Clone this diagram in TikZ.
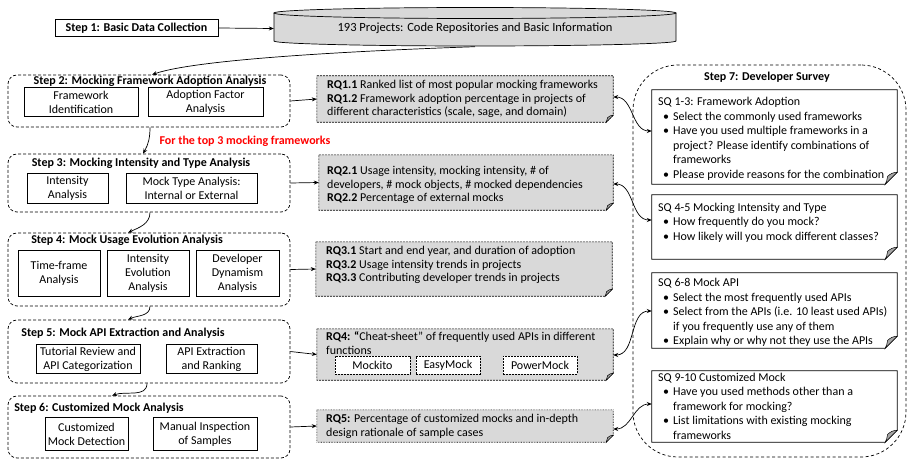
\documentclass[tikz,border=0pt]{standalone}
\usepackage{fontspec}
\setmainfont{Carlito}
\usetikzlibrary{arrows.meta,backgrounds,calc}
\definecolor{boxgray}{HTML}{D9D9D9}
\definecolor{foldgray}{HTML}{A6A6A6}
\definecolor{redtxt}{HTML}{FF0000}
\newcommand\sqbul{\hspace*{5pt}\makebox[10pt][l]{\textbullet}}
\newcommand\sqind{\hspace*{15pt}}
\newcommand\foldbg[3]{%
  \begin{pgfonlayer}{background}
  \path[#3] (#1.north west) -- (#1.north east) -- ($(#1.south east)+(0,-#2)$) -- ($(#1.south east)+(-#2,0)$) -- (#1.south west) -- cycle;
  \path[fill=foldgray, draw, line width=0.5pt] ($(#1.south east)+(0,-#2)$) to[bend right=20] ($(#1.south east)+(-0.8*#2,-0.65*#2)$) to[bend left=10] ($(#1.south east)+(-#2,0)$) -- cycle;
  \end{pgfonlayer}}
\begin{document}
\begin{tikzpicture}[x=1pt,y=-1pt,font=\fontsize{12}{13.5}\selectfont,
  arr/.style={-{Stealth[length=5pt,width=4pt]},line width=0.7pt},
  darr/.style={{Stealth[length=5pt,width=4pt]}-{Stealth[length=5pt,width=4pt]},line width=0.7pt},
  stepbox/.style={draw,dash pattern=on 3pt off 2pt,rounded corners=9pt,line width=0.7pt,inner sep=0},
  subbox/.style={draw,line width=0.8pt,align=center,inner sep=0,font=\fontsize{12}{14}\selectfont},
  steptitle/.style={font=\bfseries\fontsize{12}{13}\selectfont,inner sep=0},
  rqbox/.style={inner sep=0},
  rqtext/.style={anchor=west,align=left,inner sep=0},
  sqtext/.style={anchor=west,align=left,inner sep=0,font=\fontsize{12}{14.5}\selectfont},
  fwbox/.style={draw,fill=white,dash pattern=on 2pt off 1pt,line width=0.6pt,inner sep=0,minimum height=18pt},
  rqline/.style={fill=boxgray,draw,dash pattern=on 2pt off 1pt,line width=0.6pt},
  rqdot/.style={fill=boxgray,draw,dash pattern=on 0.7pt off 0.9pt,line width=0.6pt},
  sqline/.style={fill=white,draw,line width=0.8pt}
]
\useasboundingbox (0,0) rectangle (911,460);

% Step 1 and database
\node[draw,line width=0.8pt,minimum width=163pt,minimum height=17pt,inner sep=0,font=\bfseries\fontsize{12}{13}\selectfont] (s1) at (136.5,28) {Step 1: Basic Data Collection};
\path[fill=boxgray] (274,13) -- (274,41) arc[start angle=180,end angle=360,x radius=201pt,y radius=5pt] -- (676,13) -- cycle;
\draw[line width=0.7pt] (274,13) -- (274,41) arc[start angle=180,end angle=360,x radius=201pt,y radius=5pt] -- (676,13);
\draw[fill=boxgray,line width=0.7pt] (475,13) ellipse[x radius=201pt,y radius=5.5pt];
\node[minimum width=402pt,minimum height=33pt,inner sep=0,font=\fontsize{12.5}{14}\selectfont] (db) at (475,28.5) {193 Projects: Code Repositories and Basic Information};
\draw[arr] (s1.east) -- (db.west);

% Step boxes
\node[stepbox,minimum width=282pt,minimum height=52pt] (s2) at (149,101) {};
\node[steptitle] (s2t) at (150,81.5) {Step 2: Mocking Framework Adoption Analysis};
\node[subbox,minimum width=114pt,minimum height=29pt] (s2a) at (81,102) {Framework\\Identification};
\node[subbox,minimum width=115pt,minimum height=29pt] (s2b) at (205.5,102) {Adoption Factor\\Analysis};

\node[font=\bfseries\fontsize{12}{13}\selectfont,text=redtxt,inner sep=0] (red) at (245,141) {For the top 3 mocking frameworks};

\node[stepbox,minimum width=282pt,minimum height=58pt] (s3) at (149,183) {};
\node[steptitle] (s3t) at (141,163) {Step 3: Mocking Intensity and Type Analysis};
\node[subbox,minimum width=81pt,minimum height=30pt] (s3a) at (67.5,188.5) {Intensity\\Analysis};
\node[subbox,minimum width=131pt,minimum height=30pt] (s3b) at (191.5,188.5) {Mock Type Analysis:\\Internal or External};

\node[stepbox,minimum width=282pt,minimum height=73pt] (s4) at (149,269.5) {};
\node[steptitle] (s4t) at (127,240.5) {Step 4: Mock Usage Evolution Analysis};
\node[subbox,minimum width=82pt,minimum height=46pt] (s4a) at (59,273.5) {Time-frame\\Analysis};
\node[subbox,minimum width=82pt,minimum height=46pt] (s4b) at (148,273.5) {Intensity\\Evolution\\Analysis};
\node[subbox,minimum width=83pt,minimum height=46pt] (s4c) at (237.5,273.5) {Developer\\Dynamism\\Analysis};

\node[stepbox,minimum width=282pt,minimum height=63pt] (s5) at (149,351.5) {};
\node[steptitle] (s5t) at (123,333.5) {Step 5: Mock API Extraction and Analysis};
\node[subbox,minimum width=104pt,minimum height=29pt] (s5a) at (88,359) {Tutorial Review and\\API Categorization};
\node[subbox,minimum width=91pt,minimum height=29pt] (s5b) at (211.5,359) {API Extraction\\and Ranking};

\node[stepbox,minimum width=282pt,minimum height=62pt] (s6) at (149,427) {};
\node[steptitle] (s6t) at (99,408.5) {Step 6: Customized Mock Analysis};
\node[subbox,minimum width=83pt,minimum height=33pt] (s6a) at (86.5,434) {Customized\\Mock Detection};
\node[subbox,minimum width=104pt,minimum height=33pt] (s6b) at (205,434) {Manual Inspection\\of Samples};

% step-to-step arrows
\draw[arr] ([yshift=-1.5pt]db.south) .. controls (380,50) and (200,58) .. ([xshift=3pt]s2.north);
\draw[arr] ([xshift=1pt]s2.south) to[out=-90,in=60] ([xshift=-6pt]s3.north);
\draw[arr] ([xshift=1pt]s3.south) to[out=-90,in=25] ([xshift=-21pt]s4.north);
\draw[arr] ([xshift=1pt]s4.south) to[out=-90,in=25] ([xshift=-21pt]s5.north);
\draw[arr] ([xshift=-2pt]s5.south) to[out=-90,in=20] ([xshift=-37pt]s6.north);

% RQ boxes
\node[rqbox,minimum width=296pt,minimum height=46pt] (rq1) at (465,99) {};
\foldbg{rq1}{7}{rqline}
\node[rqtext] (rq1t) at (327,99) {\textbf{RQ1.1} Ranked list of most popular mocking frameworks\\\textbf{RQ1.2} Framework adoption percentage in projects of\\different characteristics (scale, sage, and domain)};

\node[rqbox,minimum width=294pt,minimum height=55pt] (rq2) at (466,182.5) {};
\foldbg{rq2}{7}{rqline}
\node[rqtext] (rq2t) at (327,185) {\textbf{RQ2.1} Usage intensity, mocking intensity, \# of\\developers, \# mock objects, \# mocked dependencies\\\textbf{RQ2.2} Percentage of external mocks};

\node[rqbox,minimum width=296pt,minimum height=54pt] (rq3) at (464,269) {};
\foldbg{rq3}{7}{rqline}
\node[rqtext] (rq3t) at (326,265) {\textbf{RQ3.1} Start and end year, and duration of adoption\\\textbf{RQ3.2} Usage intensity trends in projects\\\textbf{RQ3.3} Contributing developer trends in projects};

\node[rqbox,minimum width=296pt,minimum height=51pt] (rq4) at (465,354.5) {};
\foldbg{rq4}{7}{rqline}
\node[rqtext] (rq4t) at (326,343) {\textbf{RQ4: “}Cheat-sheet” of frequently used APIs in different\\functions};
\node[fwbox,minimum width=75pt] (mk) at (372.5,365) {Mockito};
\node[fwbox,minimum width=64pt] (em) at (448,365) {EasyMock};
\node[fwbox,minimum width=74pt] (pm) at (540,365) {PowerMock};

\node[rqbox,minimum width=296pt,minimum height=32pt] (rq5) at (465,426) {};
\foldbg{rq5}{7}{rqdot}
\node[rqtext] (rq5t) at (326,426.5) {\textbf{RQ5:} Percentage of customized mocks and in-depth\\design rationale of sample cases};

% step -> RQ arrows
\draw[arr] (s2.east) -- (rq1.west);
\draw[arr] (s3.east) -- (rq2.west);
\draw[arr] (s4.east) -- (rq3.west);
\draw[arr] (s5.east) -- (rq4.west);
\draw[arr] (s6.east) -- (rq5.west);

% Step 7
\node[draw,dash pattern=on 3pt off 2.5pt,rounded corners=45pt,line width=0.7pt,minimum width=273pt,minimum height=392pt,inner sep=0] (s7) at (769.5,261) {};
\node[steptitle] (s7t) at (767,77.5) {Step 7: Developer Survey};

\node[rqbox,minimum width=245pt,minimum height=94pt] (sq1) at (774.5,137) {};
\foldbg{sq1}{12}{sqline}
\node[sqtext] (sq1t) at (658,139) {SQ 1-3: Framework Adoption\\
\sqbul Select the commonly used frameworks\\
\sqbul Have you used multiple frameworks in a\\
\sqind project? Please identify combinations of\\
\sqind frameworks\\
\sqbul Please provide reasons for the combination};

\node[rqbox,minimum width=245pt,minimum height=64pt] (sq2) at (774.5,227) {};
\foldbg{sq2}{12}{sqline}
\node[sqtext] (sq2t) at (658,222.5) {SQ 4-5 Mocking Intensity and Type\\
\sqbul How frequently do you mock?\\
\sqbul How likely will you mock different classes?};

\node[rqbox,minimum width=245pt,minimum height=75pt] (sq3) at (774.5,310.5) {};
\foldbg{sq3}{12}{sqline}
\node[sqtext] (sq3t) at (658,312.5) {SQ 6-8 Mock API\\
\sqbul Select the most frequently used APIs\\
\sqbul Select from the APIs (i.e. 10 least used APIs)\\
\sqind if you frequently use any of them\\
\sqbul Explain why or why not they use the APIs};

\node[rqbox,minimum width=245pt,minimum height=71pt] (sq4) at (774.5,406.5) {};
\foldbg{sq4}{12}{sqline}
\node[sqtext] (sq4t) at (658,406) {SQ 9-10 Customized Mock\\
\sqbul Have you used methods other than a\\
\sqind framework for mocking?\\
\sqbul List limitations with existing mocking\\
\sqind frameworks};

% RQ <-> SQ arrows
\draw[darr] ([yshift=2pt]rq1.east) to[out=0,in=180] ([yshift=6pt]sq1.west);
\draw[darr] ([yshift=-1.5pt]rq2.east) to[out=0,in=180] ([yshift=7pt]sq2.west);
\draw[darr] ([yshift=-0.5pt]rq4.east) to[out=0,in=180] ([yshift=-0.5pt]sq3.west);
\draw[darr] ([yshift=-3pt]rq5.east) to[out=0,in=180] ([yshift=2.5pt]sq4.west);
\end{tikzpicture}
\end{document}
